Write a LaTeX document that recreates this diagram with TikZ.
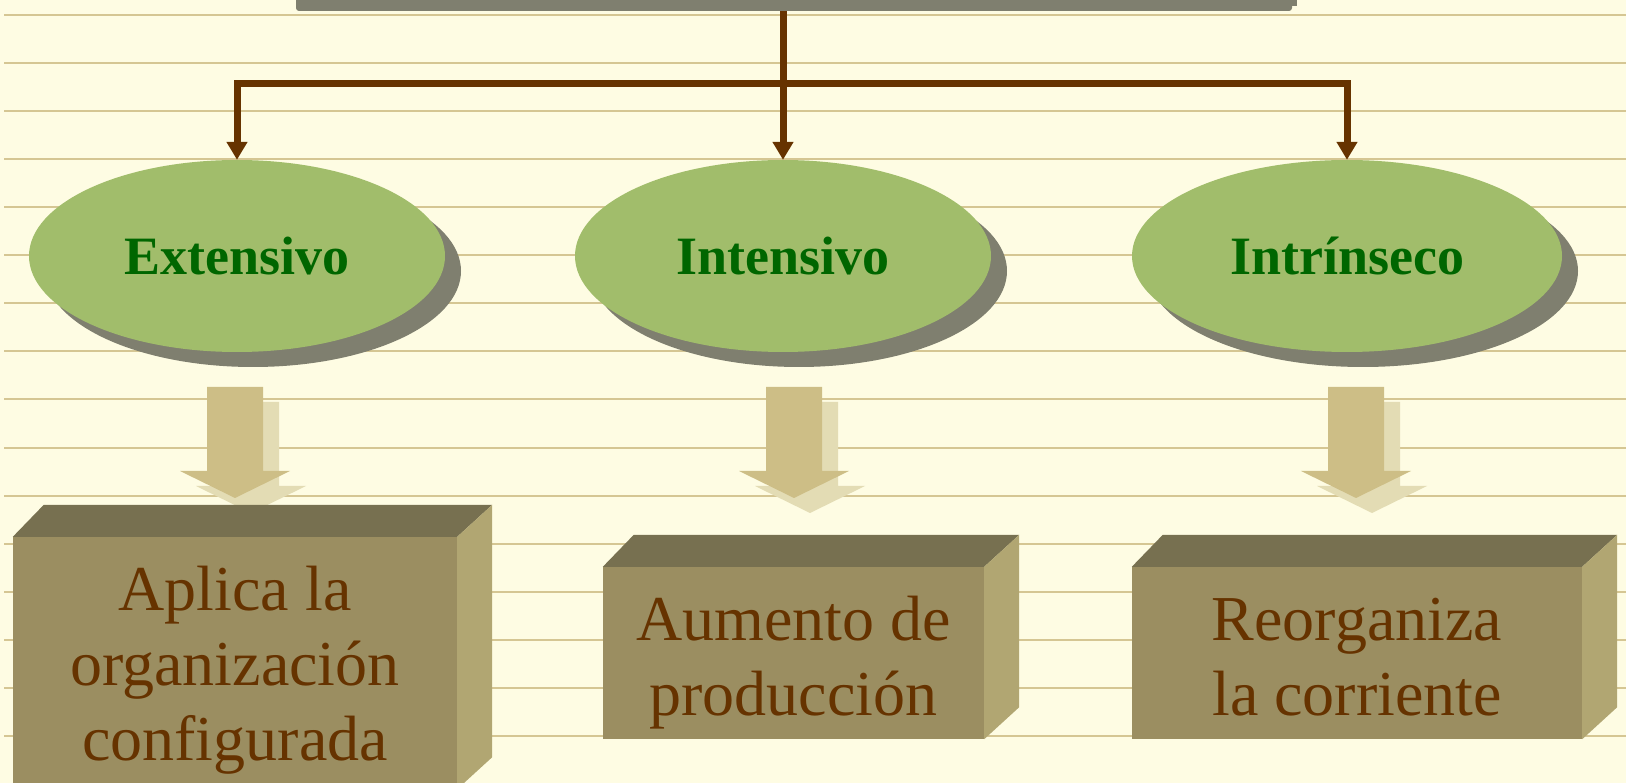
\documentclass[tikz,border=0pt]{standalone}
\usepackage{fontspec}
\setmainfont{Liberation Serif}
\usetikzlibrary{arrows.meta,shapes.geometric,calc}
\definecolor{bg}{HTML}{FEFCE3}
\definecolor{rulecol}{HTML}{D5C693}
\definecolor{barcol}{HTML}{7F7F6F}
\definecolor{conncol}{HTML}{663300}
\definecolor{egreen}{HTML}{A1BD6B}
\definecolor{tgreen}{HTML}{006600}
\definecolor{arrfill}{HTML}{CDBE86}
\definecolor{arrshade}{HTML}{E3DCB4}
\definecolor{boxfront}{HTML}{9B8E61}
\definecolor{boxtop}{HTML}{777050}
\definecolor{boxside}{HTML}{B1A672}
\begin{document}
\begin{tikzpicture}[x=1pt,y=-1pt,
  rule/.style={draw=rulecol, line width=2pt},
  conn/.style={draw=conncol, line width=7pt, line join=miter, -{Triangle[width=20pt,length=18pt]}},
  oval/.style={ellipse, fill=egreen, minimum width=416pt, minimum height=192pt, inner sep=0pt,
    text=tgreen, font=\fontsize{54}{60}\selectfont\bfseries},
  ovalshadow/.style={ellipse, fill=barcol, minimum width=416pt, minimum height=192pt, inner sep=0pt},
  front/.style={rectangle, fill=boxfront, inner sep=0pt},
  boxtext/.style={anchor=base, text=conncol, inner sep=0pt, font=\fontsize{64}{75}\selectfont},
  blockarrow/.pic={
    \fill[arrshade] (-12,402) -- (44,402) -- (44,486) -- (71,486) -- (16,513) -- (-39,486) -- (-12,486) -- cycle;
    \fill[arrfill] (-28,387) -- (28,387) -- (28,471) -- (55,471) -- (0,498) -- (-55,471) -- (-28,471) -- cycle;
  }
]
\useasboundingbox (0,0) rectangle (1626,783);
\clip (0,0) rectangle (1626,783);
\fill[bg] (0,0) rectangle (1626,783);
\foreach \k in {0,...,15} \draw[rule] (4,{14.7+48.1*\k}) -- (1626,{14.7+48.1*\k});

% top bar (bottom of the title box)
\node[fill=barcol, minimum width=996pt, minimum height=22pt, inner sep=0pt, rounded corners=3pt] (top) at (794,0) {};
\fill[barcol] (1292,0) rectangle (1297,6);

% ellipse shadows and ellipses
\node[ovalshadow] (s1) at (253,271) {};
\node[ovalshadow] (s2) at (799,271) {};
\node[ovalshadow, minimum width=430pt] (s3) at (1363,271) {};
\node[oval] (e1) at (237,256) {Extensivo};
\node[oval] (e2) at (783,256) {Intensivo};
\node[oval, minimum width=430pt] (e3) at (1347,256) {Intrínseco};

% connectors
\coordinate (hub) at (e2.north |- 0,84);
\draw[conn] (top.south -| e2.north) -- (e2.north);
\draw[conn] (hub) -| (e1.north);
\draw[conn] (hub) -| (e3.north);

% block arrows
\pic at (235,0) {blockarrow};
\pic at (794,0) {blockarrow};
\pic at (1356,0) {blockarrow};

% boxes
\node[front, minimum width=444pt, minimum height=252pt] (b1) at (235,663) {};
\node[front, minimum width=381pt, minimum height=172pt] (b2) at (793.5,653) {};
\node[front, minimum width=450pt, minimum height=172pt] (b3) at (1357,653) {};
\foreach \b in {b1,b2,b3}{
  \fill[boxtop] (\b.north west) -- ++(31,-32) -- ($(\b.north east)+(35,-32)$) -- (\b.north east) -- cycle;
  \fill[boxside] (\b.north east) -- ++(35,-32) -- ($(\b.south east)+(35,-32)$) -- (\b.south east) -- cycle;
}

\node[boxtext] (b1l1) at (235,610) {Aplica la};
\node[boxtext] (b1l2) at (235,685) {organización};
\node[boxtext] (b1l3) at (235,760) {configurada};
\node[boxtext] (b2l1) at (793.5,640) {Aumento de};
\node[boxtext] (b2l2) at (793.5,715) {producción};
\node[boxtext] (b3l1) at (1357,640) {Reorganiza};
\node[boxtext] (b3l2) at (1357,715) {la corriente};
\end{tikzpicture}
\end{document}
